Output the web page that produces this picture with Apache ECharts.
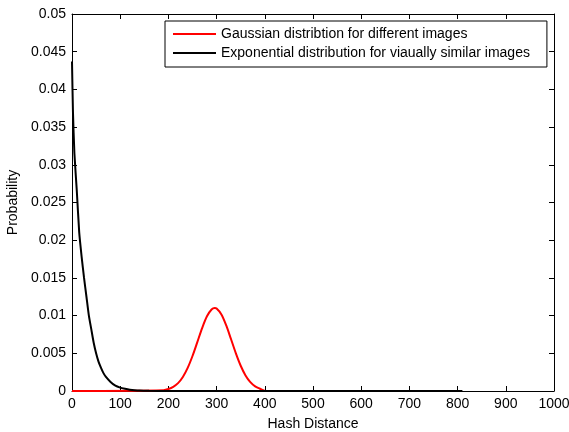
<!DOCTYPE html>
<html>
<head>
<meta charset="utf-8">
<script src="https://cdn.jsdelivr.net/npm/echarts@6/dist/echarts.min.js"></script>
<style>
html,body{margin:0;padding:0;background:#fff;}
#chart{width:569px;height:432px;}
</style>
</head>
<body>
<div id="chart"></div>
<script>
// Data
var seriesNames = ['Gaussian distribtion for different images', 'Exponential distribution for viaually similar images'];

var gaussX = [0, 190, 200, 210, 220, 230, 240, 250, 260, 270, 280, 290, 296, 300, 310, 320, 330, 340, 350, 360, 370, 380, 390, 400];
var gaussY = [0, 0.00011, 0.00026, 0.00054, 0.00104, 0.00186, 0.00306, 0.00464, 0.00648, 0.00835, 0.00991, 0.01084, 0.0110, 0.01093, 0.01016, 0.00870, 0.00686, 0.00499, 0.00335, 0.00207, 0.00118, 0.00062, 0.00030, 0];

var expX = [0, 2, 5, 10, 15, 20, 25, 30, 35, 40, 45, 50, 55, 60, 65, 70, 80, 90, 100, 110, 120, 130, 140, 160, 200, 810];
var expY = [0.0437, 0.037, 0.0315, 0.0265, 0.021, 0.0178, 0.0150, 0.0125, 0.0100, 0.0082, 0.0064, 0.0050, 0.0039, 0.0031, 0.0024, 0.0019, 0.0012, 0.0007, 0.00045, 0.0003, 0.00018, 0.0001, 0.00005, 0.00002, 0, 0];

var xTicks = {min: 0, max: 1000, interval: 100};
var yTicks = {min: 0, max: 0.05, interval: 0.005};
var xName = 'Hash Distance';
var yName = 'Probability';

function pairs(xs, ys) { return xs.map(function (x, i) { return [x, ys[i]]; }); }

var font = 'Liberation Sans, Arial, sans-serif';
var fs = 14;
var axisLineStyle = {color: '#000', width: 1};

var chart = echarts.init(document.getElementById('chart'), null, {renderer: 'canvas'});
chart.setOption({
  backgroundColor: '#fff',
  animation: false,
  textStyle: {fontFamily: font},
  grid: {left: 72, right: 15, top: 14, bottom: 41, containLabel: false, outerBoundsMode: 'none'},
  legend: {
    orient: 'vertical',
    left: 165,
    top: 21,
    data: seriesNames,
    icon: 'rect',
    itemWidth: 43,
    itemHeight: 2,
    itemGap: 3,
    padding: [5, 17, 6, 8],
    borderColor: '#000',
    borderWidth: 1,
    backgroundColor: '#fff',
    textStyle: {fontSize: fs, color: '#000', fontFamily: font, lineHeight: 16}
  },
  xAxis: [{
    type: 'value', position: 'bottom',
    min: xTicks.min, max: xTicks.max, interval: xTicks.interval,
    name: xName, nameLocation: 'middle', nameGap: 26,
    nameTextStyle: {fontSize: fs, color: '#000', fontFamily: font},
    axisLine: {show: true, onZero: false, lineStyle: axisLineStyle},
    axisTick: {show: true, inside: true, length: 5, lineStyle: axisLineStyle},
    axisLabel: {show: true, color: '#000', fontSize: fs, margin: 6, fontFamily: font,
      formatter: function (v) { return String(v); }},
    splitLine: {show: false}
  }, {
    type: 'value', position: 'top',
    min: xTicks.min, max: xTicks.max, interval: xTicks.interval,
    axisLine: {show: true, onZero: false, lineStyle: axisLineStyle},
    axisTick: {show: true, inside: true, length: 5, lineStyle: axisLineStyle},
    axisLabel: {show: false},
    splitLine: {show: false}
  }],
  yAxis: [{
    type: 'value', position: 'left',
    min: yTicks.min, max: yTicks.max, interval: yTicks.interval,
    name: yName, nameLocation: 'middle', nameGap: 48, nameRotate: 90,
    nameTextStyle: {fontSize: fs, color: '#000', fontFamily: font},
    axisLine: {show: true, onZero: false, lineStyle: axisLineStyle},
    axisTick: {show: true, inside: true, length: 5, lineStyle: axisLineStyle},
    axisLabel: {show: true, color: '#000', fontSize: fs, margin: 6, fontFamily: font},
    splitLine: {show: false}
  }, {
    type: 'value', position: 'right',
    min: yTicks.min, max: yTicks.max, interval: yTicks.interval,
    axisLine: {show: true, onZero: false, lineStyle: axisLineStyle},
    axisTick: {show: true, inside: true, length: 5, lineStyle: axisLineStyle},
    axisLabel: {show: false},
    splitLine: {show: false}
  }],
  series: [{
    name: seriesNames[0], type: 'line', xAxisIndex: 0, yAxisIndex: 0,
    data: pairs(gaussX, gaussY), smooth: 0.3, showSymbol: false, symbol: 'none',
    lineStyle: {color: '#ff0000', width: 2}, itemStyle: {color: '#ff0000'}
  }, {
    name: seriesNames[1], type: 'line', xAxisIndex: 0, yAxisIndex: 0,
    data: pairs(expX, expY), smooth: 0.2, showSymbol: false, symbol: 'none',
    lineStyle: {color: '#000000', width: 2}, itemStyle: {color: '#000000'}
  }]
});
</script>
</body>
</html>
